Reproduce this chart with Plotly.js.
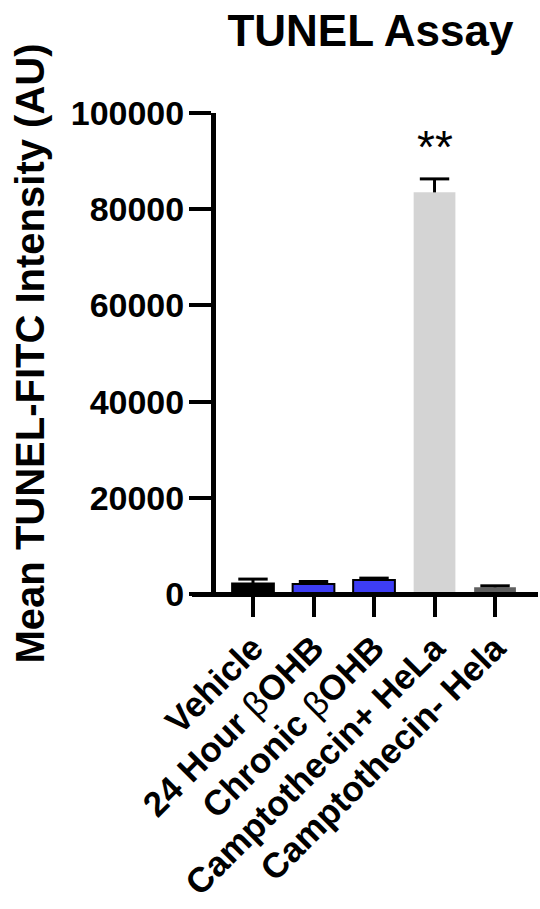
<!DOCTYPE html>
<html>
<head>
<meta charset="utf-8">
<script src="https://cdn.plot.ly/plotly-3.0.1.min.js"></script>
<style>
  html, body { margin: 0; padding: 0; background: #ffffff; }
  #chart { width: 540px; height: 909px; }
</style>
</head>
<body>
<div id="chart"></div>
<script>
// Group labels (beta drawn in regular weight)
const categories = [
  'Vehicle',
  '24 Hour <span style="font-weight:normal">\u03B2</span>OHB',
  'Chronic <span style="font-weight:normal">\u03B2</span>OHB',
  'Camptothecin+ HeLa',
  'Camptothecin- Hela'
];
// Mean TUNEL-FITC intensity (AU) and upper SEM
const means = [2200, 2100, 2900, 83500, 1400];
const sem = [900, 500, 400, 2800, 300];
const barColors = ['#000000', '#3d3df5', '#3d3df5', '#d4d4d4', '#606060'];
const outlineWidths = [2, 2, 2, 0, 0];
const yTicks = [0, 20000, 40000, 60000, 80000, 100000];
const significance = ['', '', '', '**', ''];

const font = 'Liberation Sans, Arial, Helvetica, sans-serif';
const xIdx = categories.map((c, i) => i);
const upper = means.map((m, i) => m + sem[i]);

// Bars with the upward whisker of the SEM (no caps here)
const bars = {
  type: 'bar',
  x: xIdx,
  y: means,
  width: 0.69,
  marker: {
    color: barColors,
    line: { color: '#000000', width: outlineWidths }
  },
  error_y: {
    type: 'data',
    symmetric: false,
    array: sem,
    arrayminus: sem.map(() => 0),
    color: '#000000',
    thickness: 3,
    width: 0
  },
  hoverinfo: 'none'
};

// Single cap at the top of each whisker
const caps = {
  type: 'scatter',
  mode: 'markers',
  x: xIdx,
  y: upper,
  marker: {
    symbol: 'line-ew',
    size: 21,
    line: { color: '#000000', width: 3 }
  },
  hoverinfo: 'none'
};

const annotations = significance
  .map((s, i) => ({ s, i }))
  .filter(d => d.s)
  .map(d => ({
    x: d.i,
    y: upper[d.i],
    xref: 'x',
    yref: 'y',
    text: d.s,
    showarrow: false,
    yanchor: 'bottom',
    yshift: 4,
    font: { family: font, size: 46, color: '#000000' }
  }));

const layout = {
  width: 540,
  height: 909,
  margin: { l: 192, r: 2, t: 113, b: 315, pad: 0 },
  paper_bgcolor: '#ffffff',
  plot_bgcolor: '#ffffff',
  showlegend: false,
  title: {
    text: 'TUNEL Assay',
    font: { family: font, size: 44, weight: 700, color: '#000000' },
    xref: 'container',
    x: 0.686,
    xanchor: 'center',
    yref: 'container',
    y: 0.966,
    yanchor: 'middle'
  },
  xaxis: {
    range: [-1.008, 4.71],
    anchor: 'free',
    position: 0,
    tickmode: 'array',
    tickvals: xIdx,
    ticktext: categories,
    tickangle: -45,
    ticks: 'outside',
    ticklen: 20,
    tickwidth: 4,
    tickcolor: '#000000',
    showline: true,
    linewidth: 4.5,
    linecolor: '#000000',
    showgrid: false,
    zeroline: false,
    ticklabelstandoff: -3,
    tickfont: { family: font, size: 35, weight: 700, color: '#000000' },
    fixedrange: true
  },
  yaxis: {
    range: [0, 100000],
    anchor: 'free',
    position: 0.0607,
    tickmode: 'array',
    tickvals: yTicks,
    ticktext: yTicks.map(String),
    ticks: 'outside',
    ticklen: 22,
    tickwidth: 4,
    tickcolor: '#000000',
    showline: true,
    linewidth: 4.5,
    linecolor: '#000000',
    showgrid: false,
    zeroline: false,
    ticklabelstandoff: -2,
    tickfont: { family: font, size: 34, weight: 700, color: '#000000' },
    title: {
      text: 'Mean TUNEL-FITC Intensity (AU)',
      font: { family: font, size: 40, weight: 700, color: '#000000' },
      standoff: 12
    },
    automargin: false,
    fixedrange: true
  },
  annotations: annotations
};

Plotly.newPlot('chart', [bars, caps], layout, { staticPlot: true, displayModeBar: false });
</script>
</body>
</html>
